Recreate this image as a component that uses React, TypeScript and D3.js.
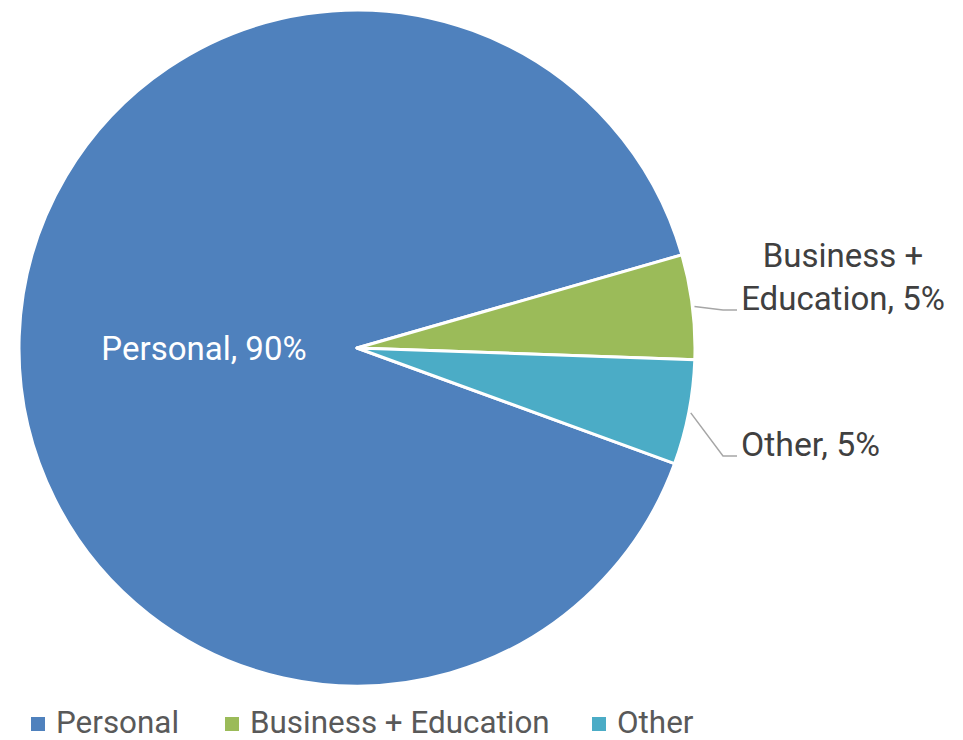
import React from "react";
import * as d3 from "d3";

const categories = ["Personal", "Business + Education", "Other"];
const values = [90, 5, 5];
const colors = ["#4F81BD", "#9BBB59", "#4BACC6"];
const labelLines = [["Personal, 90%"], ["Business +", "Education, 5%"], ["Other, 5%"]];

const W = 963;
const H = 740;
const FONT = "Roboto, 'Open Sans', sans-serif";

export default function App() {
  const cx = 357;
  const cy = 348;
  const r = 338;
  const start = (110 * Math.PI) / 180;
  const pie = d3
    .pie<number>()
    .sort(null)
    .startAngle(start)
    .endAngle(start + 2 * Math.PI);
  const arcs = pie(values);
  const arcGen = d3.arc<d3.PieArcDatum<number>>().innerRadius(0).outerRadius(r);

  const pointAt = (a: number, rad: number) => [cx + rad * Math.sin(a), cy - rad * Math.cos(a)];

  const outside: Record<number, { x: number; y: number; lineEndX: number; lineY: number; anchor: string }> = {
    1: { x: 843, y: 267, lineEndX: 737, lineY: 310, anchor: "middle" },
    2: { x: 741, y: 456, lineEndX: 737, lineY: 456, anchor: "start" },
  };

  const legendX = [31, 225, 592];

  return (
    <svg
      width={W}
      height={H}
      style={{ position: "absolute", left: 0, top: 0, background: "#fff" }}
      fontFamily={FONT}
    >
      <g>
        {arcs.map((a, i) => (
          <path
            key={i}
            d={arcGen(a) as string}
            transform={`translate(${cx},${cy})`}
            fill={colors[i]}
            stroke="#fff"
            strokeWidth={3}
            strokeLinejoin="round"
          />
        ))}
      </g>
      <text x={204} y={360} fill="#fff" fontSize={33} textAnchor="middle">
        {labelLines[0][0]}
      </text>
      {[1, 2].map((i) => {
        const a = arcs[i];
        const mid = (a.startAngle + a.endAngle) / 2;
        const [sx, sy] = pointAt(mid, r + 2);
        const o = outside[i];
        const elbowX = o.lineEndX - 14;
        const d = `M${sx},${sy}L${elbowX},${o.lineY}L${o.lineEndX},${o.lineY}`;
        return (
          <g key={i}>
            <path d={d} fill="none" stroke="#A6A6A6" strokeWidth={1.5} />
            {labelLines[i].map((t, k) => (
              <text key={k} x={o.x} y={o.y + k * 43} fill="#404040" fontSize={i === 2 ? 33.8 : 33} textAnchor={o.anchor}>
                {t}
              </text>
            ))}
          </g>
        );
      })}
      {categories.map((c, i) => (
        <g key={c}>
          <rect x={legendX[i]} y={717} width={14} height={14} fill={colors[i]} />
          <text x={legendX[i] + 25} y={733} fill="#595959" fontSize={31.4}>
            {c}
          </text>
        </g>
      ))}
    </svg>
  );
}
